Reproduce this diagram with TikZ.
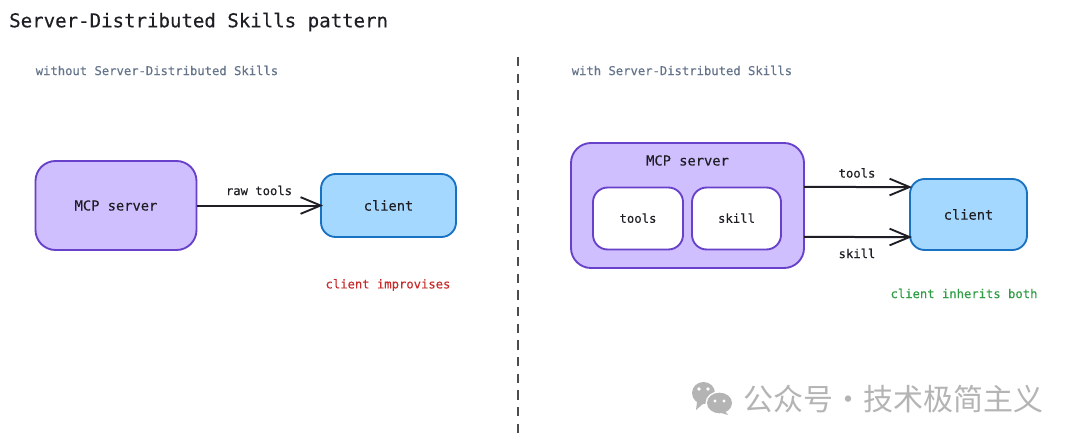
\documentclass[tikz,border=0pt]{standalone}
\usepackage{fontspec}
\setmainfont[FakeBold=0.2,AutoFakeBold=0.2]{DejaVu Sans Mono}
\newfontfamily\cjkfont{Noto Sans CJK SC}
\usetikzlibrary{arrows.meta}
\definecolor{purplefill}{HTML}{D0BFFF}
\definecolor{purpleline}{HTML}{6741C9}
\definecolor{bluefill}{HTML}{A5D8FF}
\definecolor{blueline}{HTML}{1971C2}
\definecolor{inkc}{HTML}{1E1E24}
\definecolor{subc}{HTML}{64748B}
\definecolor{redc}{HTML}{C92A2A}
\definecolor{greenc}{HTML}{2F9E44}
\definecolor{markc}{HTML}{B4B4B4}
\tikzset{
  x=0.75pt,y=-0.75pt,
  box/.style={draw,line width=1.4pt,inner sep=0pt,outer sep=0pt,align=center,text=inkc},
  purplebox/.style={box,draw=purpleline,fill=purplefill,rounded corners=15pt},
  bluebox/.style={box,draw=blueline,fill=bluefill,rounded corners=11pt},
  whitebox/.style={box,draw=purpleline,fill=white,rounded corners=11pt,font=\fontsize{9.2}{10}\bfseries\selectfont},
  flow/.style={draw=inkc,line width=1.5pt,shorten >=-1.5pt,-{Straight Barb[length=15pt,width=12.5pt,line width=1.4pt]}},
  caption/.style={inner sep=0pt,font=\fontsize{9.15}{10}\bfseries\selectfont},
  lab/.style={caption,text=inkc},
  mainlab/.style={font=\fontsize{10.3}{12}\bfseries\selectfont}
}
\begin{document}
\begin{tikzpicture}
\useasboundingbox[fill=white] (0,0) rectangle (1080,442);
\node[inner sep=0pt,anchor=west,text=inkc,font=\fontsize{14.3}{16}\bfseries\selectfont] (title) at (9,22) {Server-Distributed Skills pattern};
\node[caption,anchor=west,text=subc] (subl) at (35.5,70.5) {without Server-Distributed Skills};
\node[caption,anchor=west,text=subc] (subr) at (571.5,70.5) {with Server-Distributed Skills};
\coordinate (divt) at (518,57);
\coordinate (divb) at (518,434);
\draw[draw=black!70,line width=1.5pt,dash pattern=on 7pt off 5.5pt] (divt) -- (divb);
% left
\node[purplebox,mainlab,minimum width=120.75pt,minimum height=66.75pt] (srvl) at (116,205.5) {MCP server};
\node[bluebox,mainlab,minimum width=101.25pt,minimum height=47.25pt] (clil) at (388.5,205.5) {client};
\draw[flow] (srvl.east) -- (clil.west);
\node[lab] (rawl) at (259,190.5) {raw tools};
\node[caption,text=redc] (impr) at (388,285) {client improvises};
% right
\node[purplebox,minimum width=174.75pt,minimum height=93.75pt] (srvr) at (687.5,205.5) {};
\node[inner sep=0pt,text=inkc,mainlab] (srvt) at (687.5,160.5) {MCP server};
\node[whitebox,minimum width=67.5pt,minimum height=46.5pt] (tbox) at (638,218.5) {\raisebox{0.6pt}{tools}};
\node[whitebox,minimum width=66.75pt,minimum height=46.5pt] (sbox) at (736.5,218.5) {\raisebox{0.6pt}{skill}};
\node[bluebox,mainlab,minimum width=87.75pt,minimum height=53.25pt] (clir) at (968.5,214.5) {client};
\draw[flow] ([yshift=13.9pt]srvr.east) -- ([yshift=20.6pt]clir.west);
\draw[flow] ([yshift=-23.6pt]srvr.east) -- ([yshift=-16.9pt]clir.west);
\node[lab] (ltools) at (857,173) {tools};
\node[lab] (lskill) at (857,253.5) {skill};
\node[caption,text=greenc] (inh) at (964,293.5) {client inherits both};
% watermark
\fill[markc] (703.5,393) ellipse [x radius=11.5,y radius=11];
\fill[markc] (697,402) -- (696,410) -- (704,403) -- cycle;
\fill[white] (719.5,403) ellipse [x radius=14,y radius=11.8];
\fill[markc] (719.5,403) ellipse [x radius=12.5,y radius=10.3];
\fill[markc] (725,411) -- (728,415) -- (718,412) -- cycle;
\fill[white] (699,389) circle (1.8) (708,389) circle (1.8) (715,401) circle (1.6) (724,401) circle (1.6);
\node[inner sep=0pt,anchor=west,text=markc,font=\cjkfont\fontsize{22.5}{26}\selectfont] (wm) at (743,399) {公众号\makebox[23pt][c]{·}技术极简主义};
\end{tikzpicture}
\end{document}
